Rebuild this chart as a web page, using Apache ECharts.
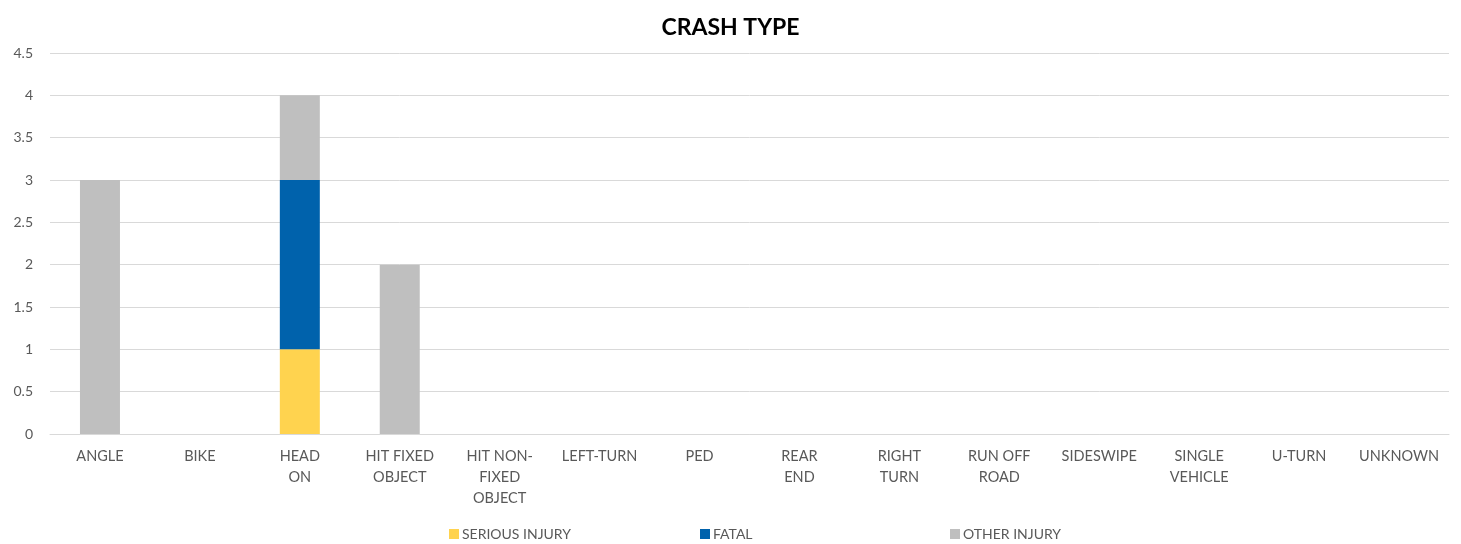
<!DOCTYPE html>
<html>
<head>
<meta charset="utf-8">
<script src="https://cdn.jsdelivr.net/npm/echarts@6/dist/echarts.min.js"></script>
<style>
  html, body { margin: 0; padding: 0; background: #fff; }
  #chart { width: 1461px; height: 544px; }
</style>
</head>
<body>
<div id="chart"></div>
<script>
const categories = [
  "ANGLE", "BIKE", "HEAD\nON", "HIT FIXED\nOBJECT", "HIT NON-\nFIXED\nOBJECT",
  "LEFT-TURN", "PED", "REAR\nEND", "RIGHT\nTURN", "RUN OFF\nROAD",
  "SIDESWIPE", "SINGLE\nVEHICLE", "U-TURN", "UNKNOWN"
];
const seriousInjury = [0, 0, 1, 0, 0, 0, 0, 0, 0, 0, 0, 0, 0, 0];
const fatal         = [0, 0, 2, 0, 0, 0, 0, 0, 0, 0, 0, 0, 0, 0];
const otherInjury   = [3, 0, 1, 2, 0, 0, 0, 0, 0, 0, 0, 0, 0, 0];

const font = "Lato, 'Open Sans', sans-serif";
const chart = echarts.init(document.getElementById("chart"));

function legendAt(name, left) {
  return {
    data: [name],
    left: left,
    top: 522,
    itemWidth: 10,
    itemHeight: 10,
    itemGap: 4,
    icon: "rect",
    textStyle: { color: "#595959", fontSize: 14, fontFamily: font, padding: [0, 0, 0, -2] }
  };
}

function bar(name, data, color) {
  return {
    name: name,
    type: "bar",
    stack: "total",
    barWidth: 40,
    itemStyle: { color: color },
    data: data
  };
}

chart.setOption({
  animation: false,
  backgroundColor: "#fff",
  title: {
    text: "CRASH TYPE",
    left: "center",
    top: 11,
    textStyle: { color: "#000", fontSize: 23, fontWeight: "bold", fontFamily: font }
  },
  legend: [
    legendAt("SERIOUS INJURY", 444),
    legendAt("FATAL", 695),
    legendAt("OTHER INJURY", 945)
  ],
  grid: { left: 50, right: 12, top: 53, bottom: 110, containLabel: false },
  xAxis: {
    type: "category",
    data: categories,
    axisLine: { lineStyle: { color: "#D9D9D9" } },
    axisTick: { show: false },
    axisLabel: {
      color: "#595959", fontSize: 14.5, fontFamily: font,
      lineHeight: 21, margin: 12, interval: 0
    }
  },
  yAxis: {
    type: "value",
    min: 0,
    max: 4.5,
    interval: 0.5,
    axisLine: { show: false },
    axisTick: { show: false },
    axisLabel: { color: "#595959", fontSize: 14, fontFamily: font, margin: 17 },
    splitLine: { lineStyle: { color: "#D9D9D9", width: 1 } }
  },
  series: [
    bar("SERIOUS INJURY", seriousInjury, "#FFD34F"),
    bar("FATAL", fatal, "#0062AC"),
    bar("OTHER INJURY", otherInjury, "#BFBFBF")
  ]
});
</script>
</body>
</html>
